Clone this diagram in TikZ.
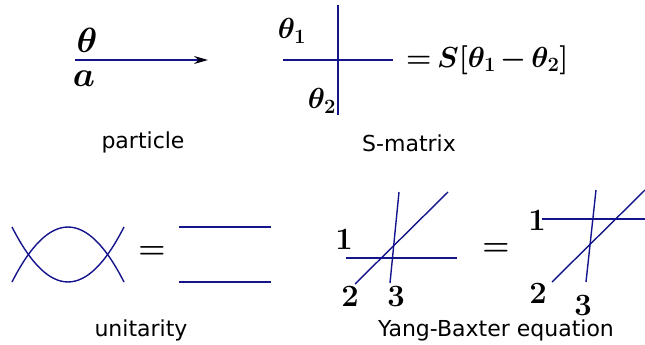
\RequirePackage{fix-cm}
\documentclass[tikz,border=0pt]{standalone}
\usepackage{fontspec}
\setsansfont{DejaVu Sans}
\usetikzlibrary{arrows.meta}
\definecolor{wire}{RGB}{20,20,140}
\colorlet{tipcol}{black!85!wire}
\begin{document}
\begin{tikzpicture}[x=1pt,y=-1pt,
  wline/.style={draw=wire,line width=1.4pt},
  mlbl/.style={inner sep=0pt,font=\fontsize{31}{36}\selectfont\boldmath},
  plbl/.style={inner sep=0pt,font=\fontsize{35}{40}\selectfont\boldmath},
  slbl/.style={inner sep=0pt,font=\fontsize{29}{34}\selectfont\boldmath},
  caption/.style={inner sep=0pt,font=\sffamily\fontsize{22}{26}\selectfont}]
\useasboundingbox (0,0) rectangle (645,345);
% particle
\coordinate (pa) at (75,60);
\coordinate (pb) at (208,60);
\draw[wline,-{Stealth[length=14pt,width=8pt,color=tipcol]}] (pa) -- (pb);
\node[plbl] (th) at (87,40) {$\theta$};
\node[plbl] (aa) at (84,79) {$a$};
\node[caption] (cap1) at (143,142) {particle};
% S-matrix
\coordinate (sh1) at (283,60);
\coordinate (sh2) at (393,60);
\coordinate (sv1) at (338,5);
\coordinate (sv2) at (338,115);
\draw[wline] (sh1) -- (sh2);
\draw[wline] (sv1) -- (sv2);
\node[slbl] (t1) at (292,31) {$\theta_1$};
\node[slbl] (t2) at (322,101) {$\theta_2$};
\node[slbl,anchor=west,font=\fontsize{29}{34}\selectfont\boldmath] (seq) at (406,60)
  {$\thickmuskip=3mu\medmuskip=2.5mu =S[\theta_1-\theta_2]$};
\node[caption] (cap2) at (409,143) {S-matrix};
% unitarity
\coordinate (u1) at (12,282);
\coordinate (u2) at (124,282);
\coordinate (u3) at (12,227);
\coordinate (u4) at (124,227);
\draw[wline] (u1) .. controls (49.3,208.7) and (86.7,208.7) .. (u2);
\draw[wline] (u3) .. controls (49.3,300.3) and (86.7,300.3) .. (u4);
\node[mlbl] (ueq) at (152,253) {$=$};
\coordinate (h1a) at (179,227);
\coordinate (h1b) at (271,227);
\coordinate (h2a) at (179,282);
\coordinate (h2b) at (271,282);
\draw[wline] (h1a) -- (h1b);
\draw[wline] (h2a) -- (h2b);
\node[caption] (cap3) at (141,330) {unitarity};
% Yang-Baxter left
\coordinate (la1) at (346,258);
\coordinate (la2) at (457,258);
\coordinate (lb1) at (355,284);
\coordinate (lb2) at (448,192);
\coordinate (lc1) at (399,192);
\coordinate (lc2) at (390,283);
\draw[wline] (la1) -- (la2);
\draw[wline] (lb1) -- (lb2);
\draw[wline] (lc1) -- (lc2);
\node[mlbl] (l1) at (344,240) {$1$};
\node[mlbl] (l2) at (350,297) {$2$};
\node[mlbl] (l3) at (396,297) {$3$};
\node[mlbl] (yeq) at (496,250) {$=$};
% Yang-Baxter right
\coordinate (ra1) at (542,219);
\coordinate (ra2) at (645,219);
\coordinate (rb1) at (552,282);
\coordinate (rb2) at (645,190);
\coordinate (rc1) at (596,190);
\coordinate (rc2) at (586,282);
\draw[wline] (ra1) -- (ra2);
\draw[wline] (rb1) -- (rb2);
\draw[wline] (rc1) -- (rc2);
\node[mlbl] (r1) at (537,221) {$1$};
\node[mlbl] (r2) at (538,294) {$2$};
\node[mlbl] (r3) at (583,306) {$3$};
\node[caption] (cap4) at (496,330) {Yang-Baxter equation};
\end{tikzpicture}
\end{document}
